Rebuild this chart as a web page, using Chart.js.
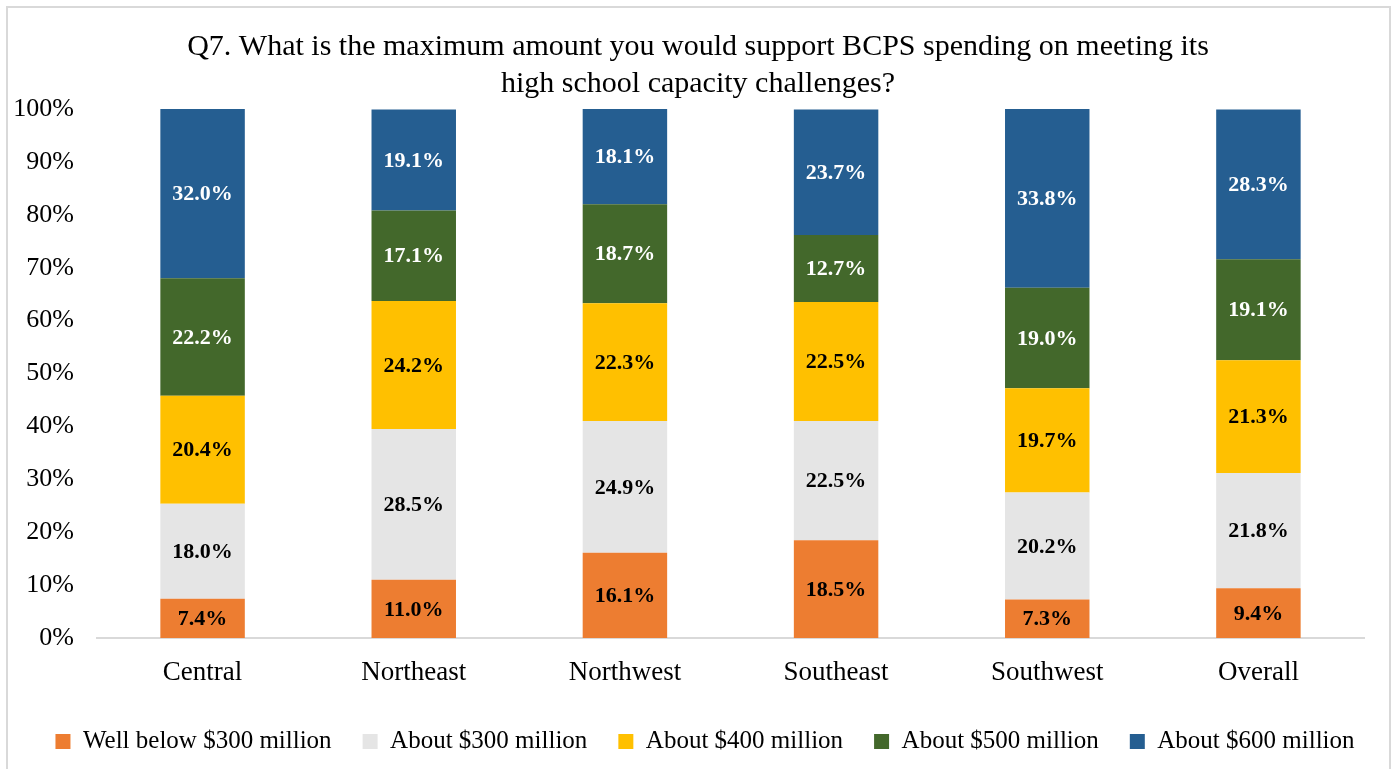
<!DOCTYPE html>
<html>
<head>
<meta charset="utf-8">
<script src="https://cdn.jsdelivr.net/npm/chart.js@4.4.1/dist/chart.umd.min.js"></script>
<style>
  html, body { margin: 0; padding: 0; background: #fff; }
  #wrap { position: relative; width: 1392px; height: 769px; }
</style>
</head>
<body>
<div id="wrap"><canvas id="c" width="1392" height="769"></canvas></div>
<script>
// Regions surveyed
const regions = ['Central', 'Northeast', 'Northwest', 'Southeast', 'Southwest', 'Overall'];

// Share of respondents (%) for each maximum spending level
const wellBelow300 = [7.4, 11.0, 16.1, 18.5, 7.3, 9.4];
const about300     = [18.0, 28.5, 24.9, 22.5, 20.2, 21.8];
const about400     = [20.4, 24.2, 22.3, 22.5, 19.7, 21.3];
const about500     = [22.2, 17.1, 18.7, 12.7, 19.0, 19.1];
const about600     = [32.0, 19.1, 18.1, 23.7, 33.8, 28.3];

const seriesNames = ['Well below $300 million', 'About $300 million', 'About $400 million', 'About $500 million', 'About $600 million'];
const yTicks = [0, 10, 20, 30, 40, 50, 60, 70, 80, 90, 100];

const SERIF = "'Liberation Serif', 'DejaVu Serif', serif";

// White page with a light frame around the chart
const framePlugin = {
  id: 'frame',
  beforeDraw(chart) {
    const ctx = chart.ctx;
    ctx.save();
    ctx.fillStyle = '#ffffff';
    ctx.fillRect(0, 0, chart.width, chart.height);
    ctx.strokeStyle = '#d9d9d9';
    ctx.lineWidth = 2;
    ctx.strokeRect(7, 7, 1383, 800);
    ctx.restore();
  }
};

// Centre the title and legend on the whole frame rather than on the padded box
const centreBlocks = {
  id: 'centreBlocks',
  afterLayout(chart) {
    if (chart.titleBlock) { chart.titleBlock.left += 16; chart.titleBlock.right += 16; }
    if (chart.legend) { chart.legend.left += 23; chart.legend.right += 23; }
  }
};

// Value labels centred in each stacked segment
const segmentLabels = {
  id: 'segmentLabels',
  afterDatasetsDraw(chart) {
    const ctx = chart.ctx;
    ctx.save();
    ctx.font = "bold 22px " + SERIF;
    ctx.textAlign = 'center';
    ctx.textBaseline = 'middle';
    chart.data.datasets.forEach((ds, i) => {
      const meta = chart.getDatasetMeta(i);
      meta.data.forEach((bar, j) => {
        const p = bar.getProps(['x', 'y', 'base'], true);
        ctx.fillStyle = ds.labelColor;
        ctx.fillText(ds.data[j].toFixed(1) + '%', p.x, (p.y + p.base) / 2 + 1);
      });
    });
    ctx.restore();
  }
};

const makeSet = (label, data, color, labelColor) => ({
  label, data, backgroundColor: color, borderWidth: 0, labelColor,
  barPercentage: 0.4, categoryPercentage: 1.0
});

new Chart(document.getElementById('c'), {
  type: 'bar',
  data: {
    labels: regions,
    datasets: [
      makeSet(seriesNames[0], wellBelow300, '#ed7d31', '#000000'),
      makeSet(seriesNames[1], about300, '#e5e5e5', '#000000'),
      makeSet(seriesNames[2], about400, '#ffc000', '#000000'),
      makeSet(seriesNames[3], about500, '#43682b', '#ffffff'),
      makeSet(seriesNames[4], about600, '#255e91', '#ffffff')
    ]
  },
  options: {
    responsive: false,
    animation: false,
    layout: { padding: { left: 0, right: 28, top: 0, bottom: 5 } },
    plugins: {
      title: {
        display: true,
        text: ['Q7. What is the maximum amount you would support BCPS spending on meeting its', 'high school capacity challenges?'],
        color: '#000',
        font: { family: SERIF, size: 30, weight: 'normal', lineHeight: 1.233 },
        padding: { top: 29, bottom: 6 }
      },
      legend: {
        position: 'bottom',
        labels: {
          color: '#000',
          font: { family: SERIF, size: 25 },
          boxWidth: 15,
          boxHeight: 15,
          padding: 31
        }
      },
      tooltip: { enabled: false }
    },
    scales: {
      x: {
        stacked: true,
        grid: { display: false },
        border: { display: true, color: '#d9d9d9', width: 2 },
        ticks: { color: '#000', font: { family: SERIF, size: 27 }, padding: 11 },
        afterFit(scale) { scale.height = 60; }
      },
      y: {
        stacked: true,
        min: 0,
        max: 100,
        grid: { display: false },
        border: { display: false },
        afterBuildTicks(scale) { scale.ticks = yTicks.map(v => ({ value: v })); },
        ticks: {
          color: '#000',
          font: { family: SERIF, size: 26 },
          padding: 15,
          callback: v => v + '%'
        },
        afterFit(scale) { scale.width = 97; }
      }
    }
  },
  plugins: [framePlugin, centreBlocks, segmentLabels]
});
</script>
</body>
</html>
